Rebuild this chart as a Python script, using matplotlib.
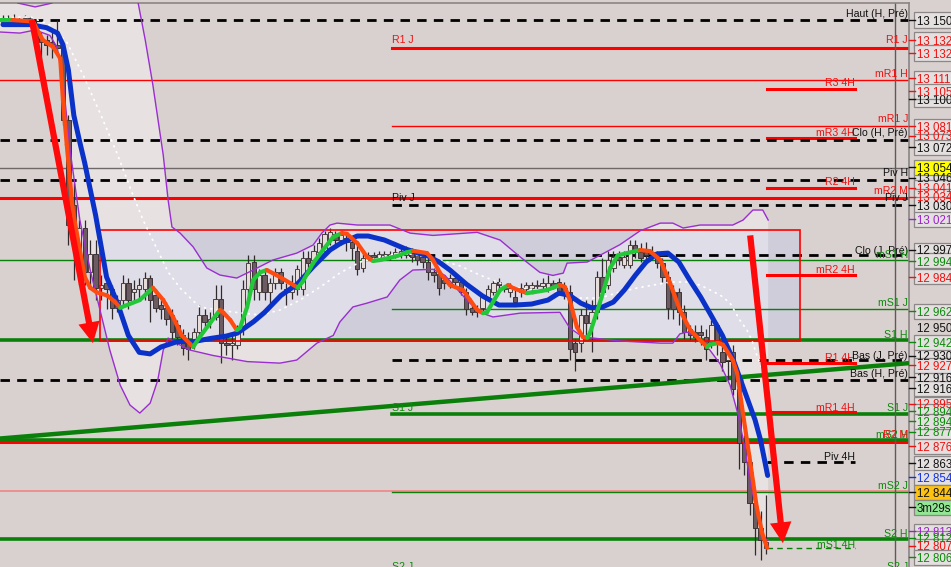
import numpy as np
import matplotlib
matplotlib.use('Agg')
import matplotlib.pyplot as plt
from matplotlib.patches import Rectangle, Polygon, FancyArrowPatch
from matplotlib.collections import LineCollection
from matplotlib.lines import Line2D

# ---------------- data ----------------
c_open = [13149, 13150, 13149, 13150, 13149, 13151, 13147, 13138, 13137, 13136,
          13134, 13132, 13085, 13030, 12986, 13015, 12986, 12998, 12976, 12979,
          12975, 12963, 12968, 12979, 12973, 12975, 12975, 12982, 12971, 12965,
          12963, 12958, 12952, 12945, 12942, 12941, 12947, 12958, 12954, 12957,
          12969, 12940, 12939, 12939, 12949, 12975, 12993, 12973, 12984, 12973,
          12979, 12986, 12975, 12973, 12975, 12975, 12995, 12994, 12999, 13000,
          13007, 13011, 13007, 13008, 13006, 13000, 12989, 12996, 12997, 12996,
          12997, 12996, 12997, 12998, 12997, 12999, 12998, 12996, 12993, 12986,
          12985, 12981, 12979, 12982, 12980, 12973, 12963, 12962, 12963, 12970,
          12973, 12980, 12975, 12973, 12970, 12973, 12975, 12976, 12977, 12977,
          12975, 12979, 12980, 12976, 12973, 12940, 12940, 12958, 12953, 12960,
          12983, 12978, 12989, 12996, 12991, 12991, 13004, 12999, 13000, 12998,
          12995, 12992, 12983, 12973, 12973, 12960, 12949, 12947, 12947, 12944,
          12941, 12952, 12934, 12929, 12934, 12910, 12875, 12863, 12836, 12820,
          12807]
c_high = [13153, 13153, 13154, 13152, 13153, 13152, 13150, 13142, 13140, 13143,
          13150, 13134, 13088, 13044, 13020, 13020, 13007, 13007, 12984, 12984,
          12978, 12971, 12984, 12982, 12981, 12982, 12986, 12984, 12975, 12968,
          12967, 12962, 12955, 12949, 12947, 12950, 12965, 12962, 12960, 12978,
          12978, 12945, 12945, 12952, 12981, 12997, 12997, 12988, 12988, 12982,
          12989, 12989, 12979, 12984, 12991, 13000, 13000, 13004, 13008, 13013,
          13015, 13013, 13013, 13012, 13008, 13004, 13000, 12999, 12999, 13000,
          13000, 13000, 13002, 13003, 13003, 13002, 13000, 12999, 12995, 12989,
          12987, 12984, 12985, 12984, 12982, 12976, 12965, 12965, 12971, 12978,
          12981, 12982, 12978, 12979, 12975, 12979, 12980, 12980, 12981, 12982,
          12984, 12981, 12982, 12980, 12978, 12943, 12962, 12968, 12968, 12987,
          12995, 13000, 13000, 13000, 13000, 13007, 13007, 13005, 13006, 13003,
          13000, 12995, 12987, 12978, 12976, 12965, 12952, 12952, 12952, 12949,
          12955, 12954, 12942, 12939, 12939, 12916, 12880, 12867, 12841, 12831,
          12841]
c_low = [13147, 13147, 13147, 13147, 13147, 13146, 13134, 13121, 13127, 13125,
         13127, 13082, 13004, 12981, 12978, 12978, 12975, 12968, 12968, 12962,
         12956, 12960, 12965, 12962, 12967, 12969, 12968, 12954, 12960, 12956,
         12952, 12943, 12939, 12932, 12929, 12936, 12943, 12949, 12950, 12955,
         12927, 12932, 12929, 12936, 12945, 12971, 12968, 12968, 12968, 12965,
         12975, 12975, 12965, 12969, 12971, 12971, 12988, 12991, 12995, 12997,
         13004, 13004, 13004, 13000, 12994, 12984, 12986, 12994, 12994, 12995,
         12995, 12994, 12995, 12995, 12995, 12993, 12991, 12989, 12981, 12980,
         12971, 12975, 12976, 12976, 12971, 12958, 12958, 12957, 12960, 12968,
         12971, 12975, 12973, 12970, 12965, 12970, 12972, 12973, 12975, 12975,
         12973, 12975, 12971, 12969, 12929, 12922, 12934, 12945, 12934, 12956,
         12969, 12975, 12986, 12991, 12989, 12989, 12995, 12993, 12994, 12995,
         12989, 12980, 12956, 12956, 12952, 12943, 12942, 12941, 12939, 12929,
         12937, 12932, 12922, 12916, 12906, 12858, 12854, 12828, 12802, 12799,
         12803]
c_close = [13150, 13149, 13150, 13149, 13151, 13149, 13136, 13136, 13134, 13134,
           13132, 13085, 13017, 13010, 13015, 12986, 12998, 12976, 12978, 12975,
           12963, 12968, 12979, 12968, 12975, 12978, 12982, 12968, 12963, 12962,
           12956, 12947, 12944, 12937, 12936, 12947, 12958, 12954, 12956, 12969,
           12940, 12939, 12940, 12947, 12975, 12992, 12975, 12984, 12973, 12979,
           12986, 12979, 12973, 12979, 12988, 12995, 12992, 13000, 13005, 13011,
           13012, 13007, 13010, 13006, 13002, 12988, 12995, 12997, 12996, 12998,
           12998, 12998, 12999, 13000, 13000, 12996, 12994, 12993, 12986, 12984,
           12976, 12979, 12982, 12980, 12973, 12962, 12960, 12960, 12970, 12975,
           12979, 12978, 12976, 12976, 12967, 12976, 12978, 12978, 12978, 12979,
           12979, 12977, 12973, 12973, 12936, 12934, 12958, 12953, 12960, 12983,
           12973, 12994, 12996, 12994, 12996, 13004, 12999, 12995, 12997, 12999,
           12992, 12983, 12963, 12962, 12960, 12947, 12945, 12944, 12945, 12936,
           12952, 12941, 12928, 12934, 12910, 12875, 12863, 12836, 12820, 12812,
           12811]

# smoothed average (red falling / green rising)
ma_x = [-0.5, 1.7, 5.5, 7.3, 9.2, 10.5, 11.0, 11.7, 12.8, 14.1, 15.0, 16.0, 17.2, 19.1,
        20.5, 21.5, 25.1, 27.5, 29.4, 31.2, 32.8, 34.9, 36.1, 38.0, 39.8, 40.4, 41.7,
        42.9, 43.5, 44.8, 45.9, 47.2, 48.4, 50.8, 52.7, 54.1, 55.0, 56.9, 58.7, 60.6,
        62.2, 63.1, 65.0, 66.8, 67.9, 69.2, 72.3, 74.1, 75.2, 77.8, 78.9, 80.2, 82.0,
        84.4, 85.7, 87.0, 88.1, 88.8, 91.2, 92.7, 93.6, 96.1, 97.2, 99.8, 102.2, 103.1,
        104.0, 105.3, 106.4, 107.2, 107.7, 109.5, 111.4, 112.8, 114.5, 116.9, 118.7,
        120.6, 122.4, 124.2, 126.1, 127.9, 129.2, 129.7, 131.2, 132.1, 133.9, 134.7,
        135.6, 136.5, 137.4, 138.3, 139.3, 140.2]
ma_y = [13150, 13150, 13149, 13137, 13132.5, 13125, 13098, 13069, 13026.5, 13000.5,
        12983, 12976, 12973, 12971, 12967, 12963, 12968, 12976, 12968, 12957, 12945,
        12937.5, 12944, 12953, 12961.5, 12960, 12955, 12948.5, 12950, 12963.5, 12981,
        12986, 12987.5, 12983, 12979, 12976, 12980, 12992, 13000.5, 13009, 13011.5,
        13011, 13005, 12996, 12993.4, 12994, 12996.6, 12999, 13000, 12998.5, 12994,
        12985.5, 12977.75, 12974.5, 12968, 12961.5, 12959.5, 12960, 12974.5, 12977.75,
        12975.8, 12972.5, 12973, 12974.5, 12977.75, 12976.5, 12968, 12950.5, 12944,
        12943.5, 12946.5, 12966, 12988.8, 12997, 12998.5, 13000.5, 12999.8, 12994,
        12979, 12961.5, 12948.5, 12942, 12937.5, 12939, 12940, 12939, 12929, 12920.5,
        12898.5, 12877, 12855.5, 12833.5, 12816.5, 12807]

# blue average
blue_x = [0, 5, 8, 10, 11, 12, 13, 14, 15, 17, 19, 21, 23, 25, 27, 29, 32, 35, 38, 41,
          43, 46, 48, 51, 54, 57, 60, 62, 65, 67, 70, 74, 78, 80, 82, 85, 88, 91, 94, 97,
          100, 102, 104, 106, 108, 110, 112, 114, 116, 118, 120, 122, 124, 126, 128, 130,
          132, 134, 136, 138, 139, 140.3]
blue_y = [13147, 13147, 13145, 13141.5, 13134, 13117.5, 13088, 13072, 13057, 13023,
          12983, 12966, 12945, 12934, 12933, 12937.5, 12941, 12941, 12943, 12944.6,
          12946.5, 12954, 12960, 12971, 12978.4, 12990, 13000.5, 13005, 13009.6, 13009.6,
          13007, 13001, 12996.6, 12992.7, 12987.5, 12978.4, 12970.6, 12964.75, 12964.75,
          12965.4, 12968, 12972.5, 12971, 12966, 12963, 12963.5, 12966.7, 12974.5, 12984,
          12992.7, 12998, 12998.5, 12992.7, 12981, 12970, 12957.6, 12945, 12929, 12909.5,
          12890, 12877, 12854]

# Bollinger bands
up_x = [-0.55, 2.75, 5.9, 9.0, 10.8, 17.8, 22.4, 24.8, 26.1, 27.5, 29.4, 30.3, 31.0,
        32.5, 34.9, 37.4, 39.8, 42.9, 45.9, 49.5, 53.9, 56.9, 58.5, 60.0, 61.3, 65.0,
        71.0, 74.7, 78.9, 87.0, 91.2, 94.9, 98.5, 100.9, 102.8, 103.5, 107.2, 113.2,
        116.9, 120.6, 122.9, 124.8, 127.9, 133.9, 135.8, 137.6, 139.4, 140.4]
up_y = [13169.5, 13161, 13158.5, 13161, 13182.5, 13202, 13182.5, 13161, 13137, 13107.75,
        13062.25, 13033, 13015.5, 13011.5, 13002.5, 12988.8, 12984.25, 12982.3, 12987.5,
        12994, 12998.5, 13003.75, 13011.5, 13016.75, 13018, 13016.75, 13016.75, 13011.5,
        13010, 13012, 13007, 12996, 12986, 12984, 12985.5, 12992, 12992.7, 13004, 13013,
        13018, 13018, 13014.8, 13016.75, 13016.75, 13020, 13026.5, 13026.5, 13020]
lo_x = [-0.55, 3.1, 5.9, 8.6, 9.9, 11.0, 12.3, 14.1, 16.0, 17.8, 19.6, 21.5, 23.3, 25.1,
        27.0, 28.4, 29.4, 30.3, 32.5, 34.3, 38.5, 44.8, 50.8, 53.9, 57.6, 60.6, 61.8,
        64.2, 66.8, 70.5, 72.8, 75.2, 78.9, 81.1, 85.1, 87.5, 89.9, 94.9, 102.2, 104.0,
        106.4, 113.2, 120.6, 122.9, 124.2, 125.5, 127.3, 129.7, 131.6, 133.4, 134.9,
        136.2, 137.1, 138.4, 139.4, 140.4]
lo_y = [13142.2, 13141.5, 13143.5, 13140, 13132.5, 13111, 13065.5, 13020, 12987.5,
        12961.5, 12935.5, 12912.75, 12899.75, 12894.55, 12901, 12916, 12935.5, 12943.3,
        12938.75, 12935.5, 12932, 12928, 12927, 12929, 12940, 12945, 12953.7, 12963.5,
        12966, 12970, 12981, 12987.5, 12988, 12984, 12968, 12960, 12957, 12959.5, 12960,
        12949.8, 12944, 12941.4, 12940, 12940, 12946, 12947.2, 12944, 12935.5, 12926.4,
        12912.75, 12893.25, 12870.5, 12849, 12829.5, 12813.3, 12812]
mid_x = [-0.55, 5.0, 8.6, 11.7, 14.7, 17.8, 20.9, 23.7, 25.7, 27.9, 30.3, 32.5, 36.1,
         42.2, 47.2, 50.8, 54.5, 58.2, 61.8, 65.5, 69.2, 72.8, 76.5, 80.2, 83.9, 87.5,
         91.2, 94.9, 98.5, 102.2, 105.9, 109.5, 113.2, 116.3, 119.3, 122.4, 125.5,
         127.9, 131.6, 133.4, 135.2, 136.5, 137.4, 138.3, 139.4]
mid_y = [13151.3, 13152, 13146.75, 13135.7, 13114.25, 13089.55, 13063.55, 13037.55,
         13020, 13003.75, 12986.2, 12975.8, 12963.45, 12960.2, 12958.25, 12961.5, 12968,
         12976.45, 12985.55, 12992.7, 12995.95, 12998.55, 12997.25, 12994, 12990.1,
         12984.25, 12979.05, 12975.8, 12974.5, 12973.2, 12969.3, 12969.3, 12973.2,
         12975.8, 12977.75, 12979.7, 12979.7, 12977.75, 12971.25, 12966.05, 12955,
         12948.5, 12942, 12932.25, 12922.5]

# pivot levels
level_price = [13150, 13132, 13111, 13105, 13081, 13073, 13072, 13054, 13046, 13041,
               13034, 13030, 12997, 12994, 12984, 12962, 12942, 12929, 12927, 12916,
               12894, 12895, 12876, 12877, 12863, 12844, 12843, 12813, 12807]
level_kind = ['full', 'day', 'full', '4h', 'day', '4h', 'full', 'full', 'full', '4h',
              'full', 'day', 'day', 'full', '4h', 'day', 'full', 'day', '4h', 'full',
              'day', '4h', 'full', 'full', '4h', 'full', 'day', 'full', '4h']
level_style = ['dash', 'red2', 'red1', 'red2', 'red1', 'red2', 'dash', 'gray', 'dash', 'red2',
               'red2', 'dash', 'dash', 'grn1', 'red2', 'grn1', 'grn2', 'dash', 'red2', 'dash',
               'grn2', 'red2', 'red2', 'grn2', 'dash', 'pink', 'grn1', 'grn2', 'grnd']

trend_x = [-0.55, 166.24]
trend_y = [12878, 12927]
box_x = [17.8, 146.2]
box_y = [12941.7, 13013.5]
arrow_x0 = [5.3, 137.1]
arrow_y0 = [13150, 13010]
arrow_x1 = [16.5, 143.1]
arrow_y1 = [12940, 12810]

# price scale labels (text) and the boxes they sit in
tag_text = ["13 100", "13 073", "13 046", "13 041", "13 034", "12 997", "12 930", "12 916",
            "12 895", "12 894", "12 877", "12 813", "12 812", "12 807",
            "13 150,", "13 132,", "13 132,", "13 111,", "13 105,", "13 081,", "13 072,",
            "13 054,", "13 030,", "13 021,", "12 994,", "12 984,", "12 962,", "12 942,",
            "12 927,", "12 916,", "12 894,", "12 876,", "12 863,", "12 854,", "12 844,",
            "3m29s", "12 806,"]
tag_color = ['k', 'r', 'k', 'r', 'r', 'k', 'k', 'k', 'r', 'g', 'g', 'p', 'g', 'r',
             'k', 'r', 'r', 'r', 'r', 'r', 'k', 'k', 'k', 'p', 'g', 'r', 'g', 'g',
             'r', 'k', 'g', 'r', 'k', 'b', 'k', 'k', 'g']
tag_bg = ['n'] * 21 + ['y'] + ['n'] * 12 + ['o', 'l', 'n']
tag_ypx = [99, 136, 178, 188, 197, 250, 356, 377, 404, 411, 432, 531, 538, 546,
           20, 40, 53, 78, 91, 126, 147, 167, 205, 219, 261, 277, 311, 342,
           365, 388, 421, 446, 463, 477, 492, 507, 557]

chart_text = ["Haut (H, Pré)", "R1 J", "mR1 H", "R3 4H", "mR1 J", "mR3 4H", "Clo (H, Pré)",
              "Piv H", "R2 4H", "mR2 M", "Piv J", "Clo (J, Pré)", "mS1 H", "mR2 4H", "mS1 J",
              "S1 H", "R1 4H", "Bas (J, Pré)", "Bas (H, Pré)", "mR1 4H", "S1 J", "mS2 H",
              "R2 M", "Piv 4H", "mS2 J", "S2 H", "mS1 4H", "S2 J",
              "R1 J", "Piv J", "S1 J", "S2 J"]
chart_color = ['k', 'r', 'r', 'r', 'r', 'r', 'k', 'k', 'r', 'r', 'k', 'k', 'g', 'r', 'g',
               'g', 'r', 'k', 'k', 'r', 'g', 'g', 'r', 'k', 'g', 'g', 'g', 'g',
               'r', 'k', 'g', 'g']
chart_xpx = [908, 908, 908, 855, 908, 855, 908, 908, 855, 908, 908, 908, 908, 855, 908,
             908, 855, 908, 908, 855, 908, 908, 908, 855, 908, 908, 855, 908,
             392, 392, 392, 392]
chart_ypx = [17, 43, 77, 86, 122, 136, 136, 176, 185, 194, 201, 254, 258, 273, 306,
             338, 361, 359, 377, 411, 411, 438, 438, 460, 489, 537, 548, 570,
             43, 201, 411, 570]

# ---------------- drawing ----------------
W, H = 951, 567
BG = '#D9D1CF'
COL = {'k': '#111111', 'r': '#F01010', 'g': '#0A8A0A', 'p': '#9922CC', 'b': '#1030E0'}
FONT = 'Liberation Sans'

fig = plt.figure(figsize=(W / 100, H / 100), dpi=100)
fig.patch.set_facecolor(BG)
ax = fig.add_axes([0, 0, 909 / W, 564 / H])
ax.set_facecolor(BG)
ax.set_xlim(-0.55, 166.24)
ax.set_ylim(12794.5, 13161.05)
ax.set_xticks([])
ax.set_yticks([])
for s in ['left', 'bottom']:
    ax.spines[s].set_visible(False)
for s in ['top', 'right']:
    ax.spines[s].set_color('#8A8585')
    ax.spines[s].set_linewidth(1.2)

# Bollinger fill
band_poly = np.column_stack([np.concatenate([up_x, lo_x[::-1]]),
                             np.concatenate([up_y, lo_y[::-1]])])
ax.add_patch(Polygon(band_poly, closed=True, fc='#E7E2E1', ec='none', zorder=1))
rect_fill = Rectangle((box_x[0], box_y[0]), box_x[1] - box_x[0], box_y[1] - box_y[0],
                      fc='#CFCDDA', ec='none', zorder=1.2)
ax.add_patch(rect_fill)
inner = Polygon(band_poly, closed=True, fc='#DFDDE7', ec='none', zorder=1.3)
ax.add_patch(inner)
inner.set_clip_path(rect_fill)

# levels
styles = {
    'dash': dict(color='#000000', lw=2.0, ls=(0, (3.4, 2.6))),
    'red2': dict(color='#FF0000', lw=2.2, ls='-'),
    'red1': dict(color='#FF0000', lw=1.0, ls='-'),
    'grn1': dict(color='#0A800A', lw=1.0, ls='-'),
    'grn2': dict(color='#0A800A', lw=2.6, ls='-'),
    'gray': dict(color='#6E6868', lw=1.0, ls='-'),
    'pink': dict(color='#F08A8A', lw=1.3, ls='-'),
    'grnd': dict(color='#0A800A', lw=1.0, ls=(0, (4, 3))),
}
spans = {'full': (-0.55, 166.24), 'day': (71.4, 166.24), '4h': (140.2, 156.3)}
for p, k, st in zip(level_price, level_kind, level_style):
    x0, x1 = spans[k]
    ax.plot([x0, x1], [p, p], zorder=2, **styles[st])

# trend line
ax.plot(trend_x, trend_y, color='#0A800A', lw=3.2, zorder=2.6, solid_capstyle='butt')

# vertical separator
ax.axvline(163.7, color='#5E5A5A', lw=1.0, zorder=2.2)

# candles
o = np.array(c_open, float); h = np.array(c_high, float)
l = np.array(c_low, float); c = np.array(c_close, float)
idx = np.arange(len(o))
bull = c >= o
lo_b = np.minimum(o, c)
hb = np.maximum(np.abs(c - o), 0.8)
ax.vlines(idx, l, h, color='#302A2C', lw=0.9, zorder=3)
ax.bar(idx[bull], hb[bull], bottom=lo_b[bull], width=0.8, color='#E6DCDA',
       edgecolor='#4A4042', lw=0.7, zorder=3.1)
ax.bar(idx[~bull], hb[~bull], bottom=lo_b[~bull], width=0.8, color='#6C5C62',
       edgecolor='#3E3438', lw=0.7, zorder=3.1)

# rectangle outline
ax.add_patch(Rectangle((box_x[0], box_y[0]), box_x[1] - box_x[0], box_y[1] - box_y[0],
                       fc='none', ec='#FF0000', lw=1.2, zorder=3.2))

# bands
ax.plot(up_x, up_y, color='#9A2ED0', lw=1.0, zorder=3.5)
ax.plot(lo_x, lo_y, color='#9A2ED0', lw=1.0, zorder=3.5)
ax.plot(mid_x, mid_y, color='white', lw=1.3, ls=(0, (0.5, 3.0)), zorder=3.6,
        dash_capstyle='round')

# blue average
ax.plot(blue_x, blue_y, color='#0A32C8', lw=3.6, zorder=4.5,
        solid_capstyle='round', solid_joinstyle='round')

# red / green smoothed average
mx = np.array(ma_x); my = np.array(ma_y)
segs = [[(mx[k], my[k]), (mx[k + 1], my[k + 1])] for k in range(len(mx) - 1)]
cols = ['#22C838' if my[k + 1] >= my[k] else '#FF4A10' for k in range(len(mx) - 1)]
ax.add_collection(LineCollection(segs, colors=cols, linewidths=3.0, zorder=4.8,
                                 capstyle='round', joinstyle='round'))

# arrows
for xa, ya, xb, yb in zip(arrow_x0, arrow_y0, arrow_x1, arrow_y1):
    ax.add_patch(FancyArrowPatch((xa, ya), (xb, yb),
                                 arrowstyle='simple,head_width=1.55,head_length=1.5,tail_width=0.45',
                                 mutation_scale=10, color='#FF0A0A', lw=0,
                                 shrinkA=0, shrinkB=0, zorder=6))

# labels inside the chart
for t, cc, xp, yp in zip(chart_text, chart_color, chart_xpx, chart_ypx):
    ha = 'right' if xp > 600 else 'left'
    fig.text(xp / W, 1 - yp / H, t, color=COL[cc], fontsize=7.6, family=FONT,
             ha=ha, va='baseline', zorder=7)

# price-scale tags
BGC = {'n': '#E4E0DF', 'y': '#FFFF00', 'o': '#FFC20E', 'l': '#92E592'}
for t, cc, bg, yp in zip(tag_text, tag_color, tag_bg, tag_ypx):
    yf = 1 - yp / H
    fig.add_artist(Line2D([909 / W, 915 / W], [yf, yf], color=COL[cc], lw=1.0,
                          transform=fig.transFigure))
    fig.add_artist(Rectangle((914 / W, yf - 7.5 / H), 45 / W, 15 / H,
                             transform=fig.transFigure, fc=BGC[bg], ec='#8C8686', lw=0.9))
    fig.text(917 / W, yf, t, color=COL[cc], fontsize=8.3, family=FONT,
             ha='left', va='center_baseline')

fig.text(917 / W, 1 - 328 / H, "12 950", color='#111111', fontsize=8.3, family=FONT,
         ha='left', va='center_baseline')

fig.savefig('out.png', dpi=100, facecolor=BG)
